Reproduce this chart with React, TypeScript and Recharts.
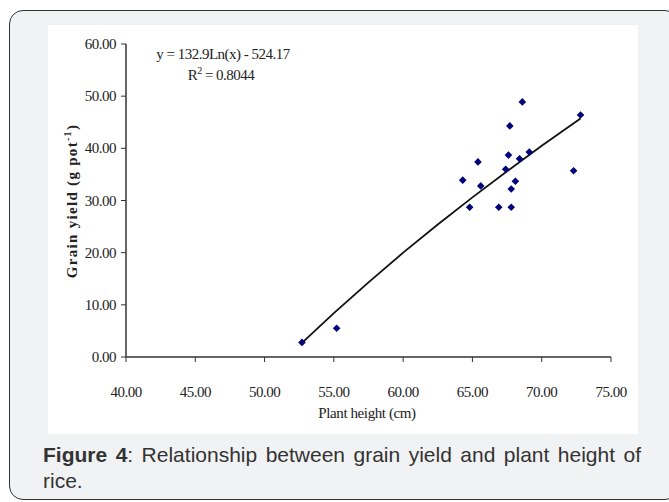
import { ScatterChart, Scatter, XAxis, YAxis, Customized } from 'recharts';

// plant height (cm) and grain yield (g pot-1)
const plantHeight = [52.7, 55.2, 64.3, 64.8, 65.4, 65.6, 66.9, 67.4, 67.6, 67.7, 67.8, 67.8, 68.1, 68.4, 68.6, 69.1, 72.3, 72.8];
const grainYield = [2.8, 5.5, 33.9, 28.7, 37.4, 32.8, 28.7, 36.0, 38.7, 44.3, 28.7, 32.2, 33.7, 38.0, 48.9, 39.3, 35.7, 46.4];

// logarithmic trendline, points
const trendHeight = [52.7, 55, 57.5, 60, 62.5, 65, 67.5, 70, 72.8];
const trendYield = [2.7, 8.4, 14.3, 20.0, 25.4, 30.6, 35.6, 40.5, 45.7];

const xTicks = [40, 45, 50, 55, 60, 65, 70, 75];
const yTicks = [0, 10, 20, 30, 40, 50, 60];

const equation = 'y = 132.9Ln(x) - 524.17';
const rSquared = '0.8044';

const points = plantHeight.map((h, i) => ({ x: h, y: grainYield[i] }));
const trend = trendHeight.map((h, i) => ({ x: h, y: trendYield[i] }));

const serif = '"Liberation Serif", "Times New Roman", serif';

const Diamond = (props: any) => {
  const { cx, cy } = props;
  if (cx == null || cy == null) return <g />;
  const r = 3.8;
  return (
    <polygon
      points={`${cx},${cy - r} ${cx + r},${cy} ${cx},${cy + r} ${cx - r},${cy}`}
      fill="#00007a"
    />
  );
};

const XTick = ({ x, y, payload }: any) => (
  <text x={x} y={y + 21} textAnchor="middle" fontFamily={serif} fontSize={15} letterSpacing={-0.5} fill="#222">
    {payload.value.toFixed(2)}
  </text>
);

const YTick = ({ x, y, payload }: any) => (
  <text x={x} y={y + 5} textAnchor="end" fontFamily={serif} fontSize={15} letterSpacing={-0.5} fill="#222">
    {payload.value.toFixed(2)}
  </text>
);

const Labels = () => (
  <g fontFamily={serif} fill="#222">
    <text x={175} y={34} textAnchor="middle" fontSize={15} letterSpacing={-0.5}>
      {equation}
    </text>
    <text x={173} y={55} textAnchor="middle" fontSize={15} letterSpacing={-0.5}>
      R<tspan fontSize={10} dy={-6}>2</tspan>
      <tspan dy={6}> = {rSquared}</tspan>
    </text>
    <text x={319} y={393} textAnchor="middle" fontSize={15} letterSpacing={-0.4}>
      Plant height (cm)
    </text>
    <text
      x={0}
      y={0}
      transform="translate(29, 176) rotate(-90)"
      textAnchor="middle"
      fontSize={15}
      fontWeight="bold"
      letterSpacing={1.3}
    >
      Grain yield (g pot<tspan fontSize={10} dy={-6}>-1</tspan>
      <tspan dy={6}>)</tspan>
    </text>
  </g>
);

export default function App() {
  return (
    <div style={{ position: 'absolute', left: 0, top: 0, width: 669, height: 502, background: '#fff' }}>
      <div
        style={{
          position: 'absolute',
          left: 9,
          top: 10,
          width: 670,
          height: 490,
          boxSizing: 'border-box',
          border: '1.5px solid #333',
          borderRadius: 14,
          background: '#f1f2f4',
        }}
      />
      <div style={{ position: 'absolute', left: 48, top: 25, width: 590, height: 409, background: '#fff' }}>
        <ScatterChart width={590} height={409} margin={{ top: 19, right: 27, bottom: 0, left: 0 }}>
          <XAxis
            type="number"
            dataKey="x"
            domain={[40, 75]}
            ticks={xTicks}
            height={77}
            tickSize={5}
            tickMargin={14}
            tick={<XTick />}
            axisLine={{ stroke: '#333', strokeWidth: 1.5 }}
            tickLine={{ stroke: '#333' }}
            allowDataOverflow
          />
          <YAxis
            type="number"
            dataKey="y"
            domain={[0, 60]}
            ticks={yTicks}
            width={78}
            tickSize={5}
            tickMargin={5}
            tick={<YTick />}
            axisLine={{ stroke: '#333', strokeWidth: 1.5 }}
            tickLine={{ stroke: '#333' }}
            allowDataOverflow
          />
          <Scatter
            data={trend}
            line={{ stroke: '#111', strokeWidth: 1.8 }}
            shape={() => <g />}
            isAnimationActive={false}
          />
          <Scatter data={points} shape={<Diamond />} isAnimationActive={false} />
          <Customized component={Labels} />
        </ScatterChart>
      </div>
      <div
        style={{
          position: 'absolute',
          left: 43,
          top: 442,
          width: 598,
          fontFamily: '"Liberation Sans", Arial, sans-serif',
          fontSize: 21,
          lineHeight: '26px',
          color: '#333',
          textAlign: 'justify',
        }}
      >
        <b>Figure 4</b>
        <span>: Relationship between grain yield and plant height of</span>{' '}
        <span>rice.</span>
      </div>
    </div>
  );
}
